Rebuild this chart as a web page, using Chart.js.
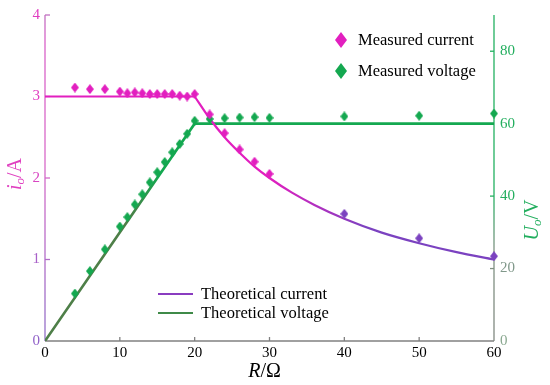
<!DOCTYPE html>
<html><head><meta charset="utf-8">
<script src="https://cdn.jsdelivr.net/npm/chart.js@4.4.0/dist/chart.umd.min.js"></script>
<style>html,body{margin:0;padding:0;background:#fff}canvas{display:block}</style>
</head><body>
<canvas id="c" width="550" height="385"></canvas>
<script>
// ---- data ----
const measCurR = [4,6,8,10,11,12,13,14,15,16,17,18,19,20,22,24,26,28,30,40,50,60];
const measCurI = [3.11,3.09,3.09,3.06,3.04,3.05,3.04,3.03,3.03,3.03,3.03,3.01,3.0,3.03,2.78,2.55,2.35,2.2,2.05,1.56,1.26,1.04];
const measVolR = [4,6,8,10,11,12,13,14,15,16,17,18,19,20,22,24,26,28,30,40,50,60];
const measVolV = [13.1,19.3,25.3,31.6,34.2,37.7,40.5,43.8,46.6,49.4,52.1,54.4,57.2,60.8,61.3,61.5,61.7,61.8,61.6,62.0,62.2,62.8];
const theoCurFlatR = [0,20];
const theoCurFlatI = [3,3];
const theoCurR = [20,22,24,26,28,30,33,36,40,45,50,55,60];
const theoCurI = [3,2.73,2.5,2.31,2.14,2.0,1.82,1.67,1.5,1.33,1.2,1.09,1.0];
const theoVolR = [0,20,60];
const theoVolV = [0,60,60];
const xTicks = [0,10,20,30,40,50,60];
const leftTicks = [0,1,2,3,4];
const rightTicks = [0,20,40,60,80];
const legendTop = ['Measured current','Measured voltage'];
const legendBottom = ['Theoretical current','Theoretical voltage'];

// ---- styles ----
const MAG = '#e21fbf', PUR = '#7b42c0', GRN = '#14a850', OLIVE = '#4e7f48';
const SERIF = '"Liberation Serif","Times New Roman",serif';
const leftTickColor = {0:'#9060c8',1:'#a860c8',2:'#d845c2',3:'#e03cc0',4:'#e03cc0'};
const rightTickColor = {0:'#8aa890',20:'#80988a',40:'#22ae5e',60:'#22ae5e',80:'#22ae5e'};

function diamond(color, w, h) {
  const c = document.createElement('canvas'); c.width = w; c.height = h;
  const g = c.getContext('2d'); g.fillStyle = color;
  g.beginPath(); g.moveTo(w/2,0); g.lineTo(w,h/2); g.lineTo(w/2,h); g.lineTo(0,h/2); g.closePath(); g.fill();
  return c;
}
const dMag = diamond(MAG, 8, 10), dPur = diamond(PUR, 8, 10), dGrn = diamond(GRN, 8, 10);

const pts = (xs, ys) => xs.map((x, i) => ({x, y: ys[i]}));

function curGrad(ctx) {
  const ch = ctx.chart; if (!ch.chartArea) return MAG;
  const xs = ch.scales.x;
  const g = ch.ctx.createLinearGradient(xs.getPixelForValue(30), 0, xs.getPixelForValue(43), 0);
  g.addColorStop(0, MAG); g.addColorStop(1, PUR); return g;
}
function volGrad(ctx) {
  const ch = ctx.chart; if (!ch.chartArea) return GRN;
  const ys = ch.scales.y1;
  const g = ch.ctx.createLinearGradient(0, ys.getPixelForValue(46), 0, ys.getPixelForValue(34));
  g.addColorStop(0, GRN); g.addColorStop(1, OLIVE); return g;
}

function richText(ctx, parts, cx, cy, rot, color) {
  ctx.save();
  ctx.translate(cx, cy); ctx.rotate(rot);
  ctx.fillStyle = color; ctx.textBaseline = 'alphabetic'; ctx.textAlign = 'left';
  let w = 0;
  parts.forEach(p => { ctx.font = p.f; p.w = ctx.measureText(p.t).width; w += p.w; });
  let x = -w/2;
  parts.forEach(p => { ctx.font = p.f; ctx.fillText(p.t, x, 7 + (p.dy||0)); x += p.w; });
  ctx.restore();
}

const decor = {
  id: 'decor',
  beforeDatasetsDraw(chart) {
    const {ctx, chartArea: a, scales} = chart;
    ctx.save();
    // bottom axis
    ctx.strokeStyle = '#808080'; ctx.lineWidth = 1.3;
    ctx.beginPath(); ctx.moveTo(a.left, a.bottom); ctx.lineTo(a.right, a.bottom); ctx.stroke();
    xTicks.slice(1, -1).forEach(v => {
      const x = scales.x.getPixelForValue(v);
      ctx.beginPath(); ctx.moveTo(x, a.bottom); ctx.lineTo(x, a.bottom - 4); ctx.stroke();
    });
    // left axis
    const lg = ctx.createLinearGradient(0, a.top, 0, a.bottom);
    lg.addColorStop(0, '#c070c0'); lg.addColorStop(0.08, '#d860c8'); lg.addColorStop(0.45, '#d868c8'); lg.addColorStop(1, '#9070c8');
    ctx.strokeStyle = lg; ctx.lineWidth = 1.3;
    ctx.beginPath(); ctx.moveTo(a.left, a.top); ctx.lineTo(a.left, a.bottom); ctx.stroke();
    leftTicks.slice(1).forEach(v => {
      const y = scales.y.getPixelForValue(v);
      ctx.beginPath(); ctx.moveTo(a.left, y); ctx.lineTo(a.left + 5, y); ctx.stroke();
    });
    // right axis
    const rg = ctx.createLinearGradient(0, a.top, 0, a.bottom);
    rg.addColorStop(0, '#22b060'); rg.addColorStop(0.55, '#22b060'); rg.addColorStop(0.72, '#7f9282'); rg.addColorStop(1, '#808880');
    ctx.strokeStyle = rg;
    ctx.beginPath(); ctx.moveTo(a.right, a.top); ctx.lineTo(a.right, a.bottom); ctx.stroke();
    rightTicks.slice(1).forEach(v => {
      const y = scales.y1.getPixelForValue(v);
      ctx.beginPath(); ctx.moveTo(a.right, y); ctx.lineTo(a.right - 4, y); ctx.stroke();
    });
    ctx.restore();
  },
  afterDraw(chart) {
    const {ctx, chartArea: a} = chart;
    // axis titles
    richText(ctx, [{t:'R', f:'italic 20px '+SERIF}, {t:'/Ω', f:'20px '+SERIF}], (a.left + a.right)/2 - 5, 370, 0, '#000');
    richText(ctx, [{t:'i', f:'italic 20px '+SERIF}, {t:'o', f:'italic 13px '+SERIF, dy:3}, {t:'/A', f:'20px '+SERIF}], 14, 174, -Math.PI/2, '#e040c0');
    richText(ctx, [{t:'U', f:'italic 20px '+SERIF}, {t:'o', f:'italic 13px '+SERIF, dy:3}, {t:'/V', f:'20px '+SERIF}], 531, 220, -Math.PI/2, '#22ae5e');
    // legends
    ctx.save();
    ctx.font = '16.5px ' + SERIF; ctx.fillStyle = '#000'; ctx.textBaseline = 'middle'; ctx.textAlign = 'left';
    const big = [diamond(MAG, 12, 16), diamond(GRN, 12, 16)];
    [40, 71].forEach((y, i) => {
      ctx.drawImage(big[i], 341 - 6, y - 8);
      ctx.fillText(legendTop[i], 358, y + 1);
    });
    [294, 313].forEach((y, i) => {
      ctx.strokeStyle = i === 0 ? '#8a3cc0' : '#3f8a48'; ctx.lineWidth = 2.2;
      ctx.beginPath(); ctx.moveTo(158, y); ctx.lineTo(193, y); ctx.stroke();
      ctx.fillText(legendBottom[i], 201, y + 1);
    });
    ctx.restore();
  }
};

new Chart(document.getElementById('c'), {
  type: 'line',
  data: {
    datasets: [
      { label: legendTop[0], data: pts(measCurR, measCurI), yAxisID: 'y', showLine: false, clip: false,
        pointStyle: c => (c.raw && c.raw.x >= 40 ? dPur : dMag), pointRadius: 5, borderColor: MAG, backgroundColor: MAG },
      { label: legendTop[1], data: pts(measVolR, measVolV), yAxisID: 'y1', showLine: false, clip: false,
        pointStyle: dGrn, pointRadius: 5, borderColor: GRN, backgroundColor: GRN },
      { label: legendBottom[0], data: pts(theoCurFlatR, theoCurFlatI), yAxisID: 'y', borderColor: MAG,
        borderWidth: 2.2, pointRadius: 0, tension: 0, fill: false },
      { label: legendBottom[0], data: pts(theoCurR, theoCurI), yAxisID: 'y', borderColor: curGrad,
        borderWidth: 2.2, pointRadius: 0, cubicInterpolationMode: 'monotone', fill: false },
      { label: legendBottom[1], data: pts(theoVolR, theoVolV), yAxisID: 'y1', borderColor: volGrad,
        borderWidth: 2.6, pointRadius: 0, tension: 0, fill: false }
    ]
  },
  options: {
    responsive: false, animation: false, devicePixelRatio: 1,
    layout: { padding: { top: 14, left: 0, right: 0, bottom: 0 } },
    plugins: { legend: { display: false }, tooltip: { enabled: false } },
    scales: {
      x: { type: 'linear', min: 0, max: 60,
        afterBuildTicks: s => { s.ticks = xTicks.map(v => ({value: v})); },
        afterFit: s => { s.height = 44; },
        grid: { display: false, drawTicks: false }, border: { display: false },
        ticks: { padding: 3, color: '#000', font: { family: SERIF, size: 15 }, maxRotation: 0 } },
      y: { type: 'linear', position: 'left', min: 0, max: 4,
        afterBuildTicks: s => { s.ticks = leftTicks.map(v => ({value: v})); },
        afterFit: s => { s.width = 45; },
        grid: { display: false, drawTicks: false }, border: { display: false },
        ticks: { padding: 5, color: c => leftTickColor[c.tick.value] || MAG, font: { family: SERIF, size: 15 } } },
      y1: { type: 'linear', position: 'right', min: 0, max: 90,
        afterBuildTicks: s => { s.ticks = rightTicks.map(v => ({value: v})); },
        afterFit: s => { s.width = 56; },
        grid: { display: false, drawTicks: false }, border: { display: false },
        ticks: { padding: 6, color: c => rightTickColor[c.tick.value] || GRN, font: { family: SERIF, size: 15 } } }
    }
  },
  plugins: [decor]
});
</script>
</body></html>
